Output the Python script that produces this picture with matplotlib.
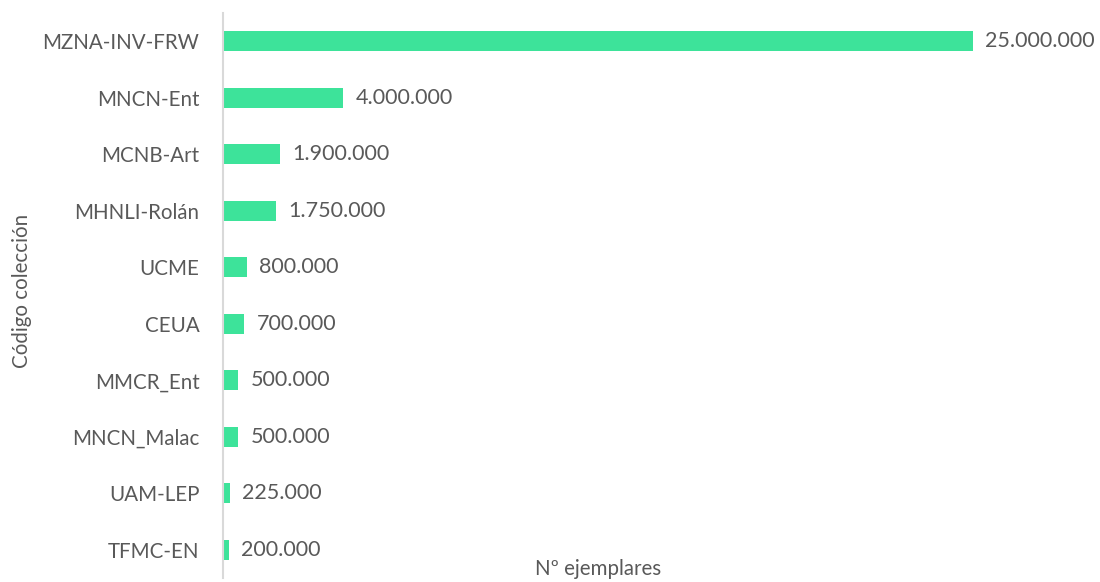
import matplotlib.pyplot as plt

codigos = ['MZNA-INV-FRW', 'MNCN-Ent', 'MCNB-Art', 'MHNLI-Rolán', 'UCME',
           'CEUA', 'MMCR_Ent', 'MNCN_Malac', 'UAM-LEP', 'TFMC-EN']
ejemplares = [25000000, 4000000, 1900000, 1750000, 800000,
              700000, 500000, 500000, 225000, 200000]

gris = '#595959'
verde = '#3de39a'

plt.rcParams['font.family'] = ['Lato', 'DejaVu Sans']

fig = plt.figure(figsize=(11, 5.82), dpi=100)
ax = fig.add_axes([223 / 1100, 4 / 582, 750 / 1100, 565 / 582])

pos = list(range(len(codigos)))
bars = ax.barh(pos, ejemplares, height=0.35, color=verde)
ax.set_ylim(len(codigos) - 0.5, -0.5)
ax.set_xlim(0, 25000000)

for b, v in zip(bars, ejemplares):
    txt = f'{v:,}'.replace(',', '.')
    ax.annotate(txt, (b.get_width(), b.get_y() + b.get_height() / 2),
                xytext=(9, 0), textcoords='offset points', va='center',
                ha='left', fontsize=15.5, color=gris, annotation_clip=False)

ax.set_yticks(pos)
ax.set_yticklabels(codigos, fontsize=14.8, color=gris)
ax.tick_params(axis='y', length=0, pad=17)
ax.set_xticks([])
for s in ['top', 'right', 'bottom']:
    ax.spines[s].set_visible(False)
ax.spines['left'].set_color('#d9d9d9')
ax.spines['left'].set_linewidth(1.5)

fig.text(598 / 1100, 1 - 569 / 582, 'Nº ejemplares', ha='center', va='center',
         fontsize=14.8, color=gris)
fig.text(22 / 1100, 0.5, 'Código colección', ha='center', va='center',
         rotation=90, fontsize=14.8, color=gris)

fig.savefig('out.png')
